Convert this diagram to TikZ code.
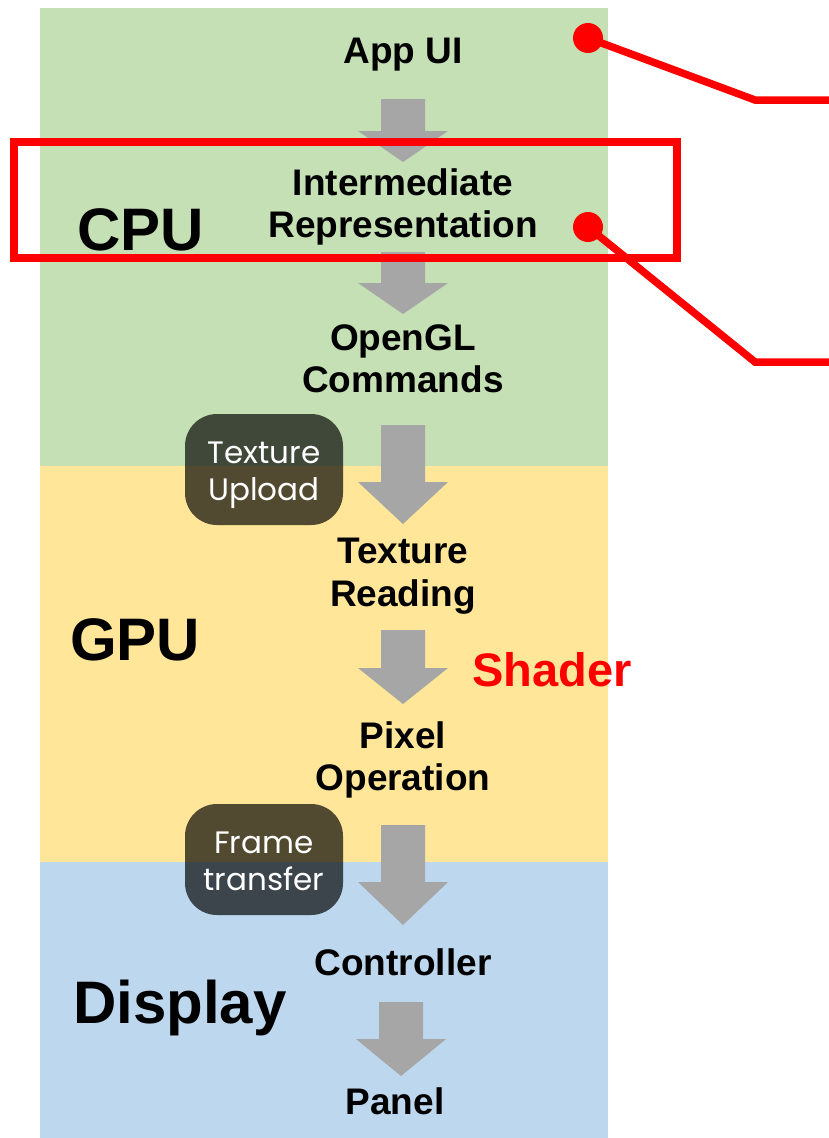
\documentclass[tikz,border=0pt]{standalone}
\usepackage{fontspec}
\setmainfont{Liberation Sans}
\newfontfamily\popfont{Poppins}
\definecolor{cpugreen}{HTML}{C5E0B4}
\definecolor{gpuyellow}{HTML}{FFE699}
\definecolor{dispblue}{HTML}{BDD7EE}
\definecolor{arrowgray}{HTML}{A6A6A6}
\definecolor{hlred}{HTML}{FF0000}
\newcommand\blockarrow[4]{%
  \fill[arrowgray] (#1-22,#2) -- (#1+22,#2) -- (#1+22,#3) -- (#1+45,#3) -- (#1,#4) -- (#1-45,#3) -- (#1-22,#3) -- cycle;}
\begin{document}
\begin{tikzpicture}[x=1pt,y=-1pt,
  stepText/.style={font=\bfseries\fontsize{37}{42}\selectfont, anchor=base, inner sep=0pt},
  layerText/.style={font=\bfseries\fontsize{60}{66}\selectfont, anchor=base west, inner sep=0pt},
  noteBox/.style={fill=black, fill opacity=0.68, draw=none, rounded corners=32pt},
  noteText/.style={font=\popfont\fontsize{31}{34}\selectfont, text=white, anchor=base, inner sep=0pt},
  redLine/.style={draw=hlred, line width=7.5pt},
  redDot/.style={fill=hlred, draw=none},
]
\useasboundingbox (0,0) rectangle (829,1138);
% layer bands
\fill[cpugreen] (40,8) rectangle (608,466);
\fill[gpuyellow] (40,466) rectangle (608,862);
\fill[dispblue] (40,862) rectangle (608,1138);
% block arrows
\blockarrow{403}{99}{131}{162}
\blockarrow{403}{252}{283}{314}
\blockarrow{403}{425}{482}{524}
\blockarrow{403}{630}{668}{704}
\blockarrow{403}{825}{882}{925}
\blockarrow{401}{1002}{1039}{1076}
% step texts
\node[stepText] (appui) at (403,63) {App UI};
\node[stepText] (ir1) at (403,195) {Intermediate};
\node[stepText] (ir2) at (403,237) {Representation};
\node[stepText] (gl1) at (403,350) {OpenGL};
\node[stepText] (gl2) at (403,392) {Commands};
\node[stepText] (tr1) at (403,563) {Texture};
\node[stepText] (tr2) at (403,606) {Reading};
\node[stepText] (po1) at (403,748) {Pixel};
\node[stepText] (po2) at (403,790) {Operation};
\node[stepText] (ctrl) at (403,975) {Controller};
\node[stepText] (panel) at (395,1114) {Panel};
% layer labels
\node[layerText] (cpu) at (77,250) {CPU};
\node[layerText] (gpu) at (70,660) {GPU};
\node[layerText] (disp) at (73,1023) {Display};
\node[font=\bfseries\fontsize{47}{52}\selectfont, text=hlred, anchor=base west, inner sep=0pt] (shader) at (472,686) {Shader};
% note boxes
\path[noteBox] (185,414) rectangle (343,525);
\node[noteText] (tu1) at (264,463) {Texture};
\node[noteText] (tu2) at (264,500) {Upload};
\path[noteBox] (185,804) rectangle (343,915);
\node[noteText] (ft1) at (264,853) {Frame};
\node[noteText] (ft2) at (264,890) {transfer};
% highlight
\draw[hlred, line width=8pt] (14,142) rectangle (677,258);
\coordinate (dotA) at (588,38);
\coordinate (dotB) at (588,227);
\coordinate (bendA) at (755,100);
\coordinate (bendB) at (755,362);
\coordinate (endA) at (829,100);
\coordinate (endB) at (829,362);
\draw[redLine] (dotA) -- (bendA) -- (endA);
\draw[redLine] (dotB) -- (bendB) -- (endB);
\fill[redDot] (dotA) circle (15pt);
\fill[redDot] (dotB) circle (15pt);
\end{tikzpicture}
\end{document}
